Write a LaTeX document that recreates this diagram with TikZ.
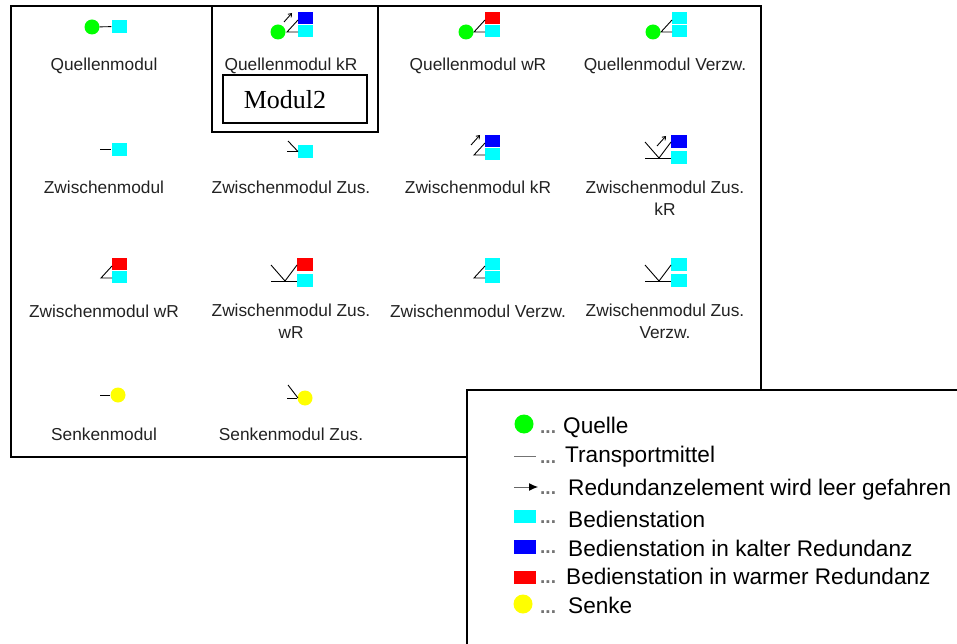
\documentclass[tikz,border=0pt]{standalone}
\usepackage{fontspec}
\setmainfont{Liberation Sans}
\newfontfamily\timesf{Liberation Serif}
\usetikzlibrary{arrows.meta}
\definecolor{cy}{HTML}{00FFFF}
\definecolor{bl}{HTML}{0000FF}
\definecolor{rd}{HTML}{FF0000}
\definecolor{gr}{HTML}{00FF00}
\definecolor{ye}{HTML}{FFFF00}
\definecolor{txt}{HTML}{222222}
\tikzset{
 frame/.style={draw=black,line width=1.1pt},
 stn/.style={rectangle,inner sep=0pt,minimum width=15pt,minimum height=12.5pt},
 disc/.style={circle,inner sep=0pt,minimum size=15pt},
 lbl/.style={font=\fontsize{17.3}{22}\selectfont,text=txt,align=center,inner sep=0pt,anchor=base},
 lbltwo/.style={font=\fontsize{17.3}{22}\selectfont,text=txt,align=center,inner sep=0pt},
 leg/.style={font=\fontsize{22.6}{26}\selectfont,text=black,anchor=base west,inner sep=0pt},
 dots/.style={font=\bfseries\fontsize{19}{19}\selectfont,text=black!55,anchor=base west,inner sep=0pt},
 legstn/.style={rectangle,inner sep=0pt,minimum width=22pt,minimum height=13.5pt},
 ln/.style={line width=0.9pt,black},
 arw/.style={line width=0.9pt,black,-{Straight Barb[length=3pt,width=4.5pt]}},
}
% two stacked stations with a branch; #1 prefix, #2 x of stack left, #3 y of top-station centre, #4 top colour
\newcommand{\stack}[4]{%
 \node[stn,fill=#4] (#1t) at (#2+7.5,#3) {};
 \node[stn,fill=cy] (#1b) at (#2+7.5,#3+13) {};
 \coordinate (#1j) at (#2-11,#3+14);
 \coordinate (#1k) at (#2,#3+14);
 \coordinate (#1m) at (#2,#3+2);
 \draw[ln] (#1k) -- (#1j) -- (#1m);
}
% wider stack with feeder; #1 prefix, #2 x of stack left, #3 y of top-station centre, #4 top colour
\newcommand{\zstack}[4]{%
 \node[stn,minimum width=16pt,minimum height=13pt,fill=#4] (#1t) at (#2+8,#3) {};
 \node[stn,minimum width=16pt,minimum height=13pt,fill=cy] (#1b) at (#2+8,#3+16) {};
 \coordinate (#1a) at (#2-26,#3+16.5);
 \coordinate (#1f) at (#2,#3+16.5);
 \coordinate (#1c) at (#2-12,#3+16.5);
 \coordinate (#1d) at (#2-26,#3+0.5);
 \coordinate (#1e) at (#2,#3+0.5);
 \draw[ln] (#1a) -- (#1f);
 \draw[ln] (#1d) -- (#1c) -- (#1e);
}
\begin{document}
\begin{tikzpicture}[x=1pt,y=-1pt]
\useasboundingbox (0,0) rectangle (957,644);
\draw[frame] (11,6) rectangle (761,457);
\draw[frame] (212,6) rectangle (378,132);
% row 1
\node[disc,fill=gr] (q1) at (92,27) {};
\node[stn,fill=cy] (s1) at (119,26.5) {};
\draw[ln] (q1) -- (s1);
\stack{a}{298}{18}{bl}
\node[disc,fill=gr] (q2) at (278,32) {};
\coordinate (a1) at (284,22); \coordinate (a2) at (292,13);
\draw[arw] (a1) -- (a2);
\stack{b}{485}{18}{rd}
\node[disc,fill=gr] (q3) at (466,32) {};
\stack{c}{672}{18}{cy}
\node[disc,fill=gr] (q4) at (653,32) {};
\node[lbl] (t1) at (104,71) {Quellenmodul};
\node[lbl] (t2) at (291,71) {Quellenmodul kR};
\node[lbl] (t3) at (478,71) {Quellenmodul wR};
\node[lbl] (t4) at (665,71) {Quellenmodul Verzw.};
\node[draw=black,line width=1.1pt,fill=white,minimum width=144pt,minimum height=48pt,inner sep=0pt] (m) at (295,99) {};
\node[font=\timesf\fontsize{26}{26}\selectfont,inner sep=0pt] (mt) at (285,100) {Modul2};
% row 2
\node[stn,fill=cy] (z1) at (119,149.5) {};
\coordinate (z1l) at (100,149.5);
\draw[ln] (z1l) -- (z1);
\node[stn,fill=cy] (z2) at (305.5,151.5) {};
\coordinate (z2l) at (287,151.5); \coordinate (z2u) at (288,141); \coordinate (z2m) at (298,151.5);
\draw[ln] (z2l) -- (z2);
\draw[ln] (z2u) -- (z2m);
\stack{d}{485}{141}{bl}
\coordinate (d1) at (471,145); \coordinate (d2) at (480,135);
\draw[arw] (d1) -- (d2);
\zstack{e}{671}{141.5}{bl}
\coordinate (e1) at (657,146); \coordinate (e2) at (666,136);
\draw[arw] (e1) -- (e2);
\node[lbl] (t5) at (104,194) {Zwischenmodul};
\node[lbl] (t6) at (291,194) {Zwischenmodul Zus.};
\node[lbl] (t7) at (478,194) {Zwischenmodul kR};
\node[lbltwo] (t8) at (665,198.7) {Zwischenmodul Zus.\\kR};
% row 3
\stack{f}{112}{264}{rd}
\zstack{g}{297}{264.5}{rd}
\stack{h}{485}{264}{cy}
\zstack{i}{671}{264.5}{cy}
\node[lbl] (t9) at (104,317) {Zwischenmodul wR};
\node[lbltwo] (t10) at (291,321.7) {Zwischenmodul Zus.\\wR};
\node[lbl] (t11) at (478,317) {Zwischenmodul Verzw.};
\node[lbltwo] (t12) at (665,321.7) {Zwischenmodul Zus.\\Verzw.};
% row 4
\node[disc,fill=ye] (y1) at (118,395) {};
\coordinate (y1l) at (100,395);
\draw[ln] (y1l) -- (y1);
\node[disc,fill=ye] (y2) at (305,398) {};
\coordinate (y2l) at (287,398); \coordinate (y2u) at (288,385); \coordinate (y2m) at (298,398);
\draw[ln] (y2l) -- (y2);
\draw[ln] (y2u) -- (y2m);
\node[lbl] (t13) at (104,440) {Senkenmodul};
\node[lbl] (t14) at (291,440) {Senkenmodul Zus.};
% legend
\fill[white] (467,390) rectangle (957,644);
\draw[frame] (467,644.5) -- (467,390) -- (957.5,390);
\node[disc,minimum size=19pt,fill=gr] (lq) at (524,424) {};
\coordinate (l2a) at (514,456); \coordinate (l2b) at (536,456);
\draw[line width=1pt,black!55] (l2a) -- (l2b);
\coordinate (l3a) at (514,487); \coordinate (l3b) at (538,487);
\draw[line width=1pt,black!60,-{Latex[length=9pt,width=8pt,black]}] (l3a) -- (l3b);
\node[legstn,fill=cy] (lb1) at (525,516.5) {};
\node[legstn,fill=bl] (lb2) at (525,547) {};
\node[legstn,fill=rd] (lb3) at (525,577.5) {};
\node[disc,minimum size=19pt,fill=ye] (ly) at (523,604) {};
\foreach \yy/\nn in {433/a,463/b,494/c,523/d,553/e,583/f,613/g}
  \node[dots] (d\nn) at (540,\yy) {...};
\node[leg] (l1) at (563,433) {Quelle};
\node[leg] (l2) at (565,462) {Transportmittel};
\node[leg] (l3) at (568,495) {Redundanzelement wird leer gefahren};
\node[leg] (l4) at (568,527) {Bedienstation};
\node[leg] (l5) at (568,556) {Bedienstation in kalter Redundanz};
\node[leg] (l6) at (566,584) {Bedienstation in warmer Redundanz};
\node[leg] (l7) at (568,613) {Senke};
\end{tikzpicture}
\end{document}
